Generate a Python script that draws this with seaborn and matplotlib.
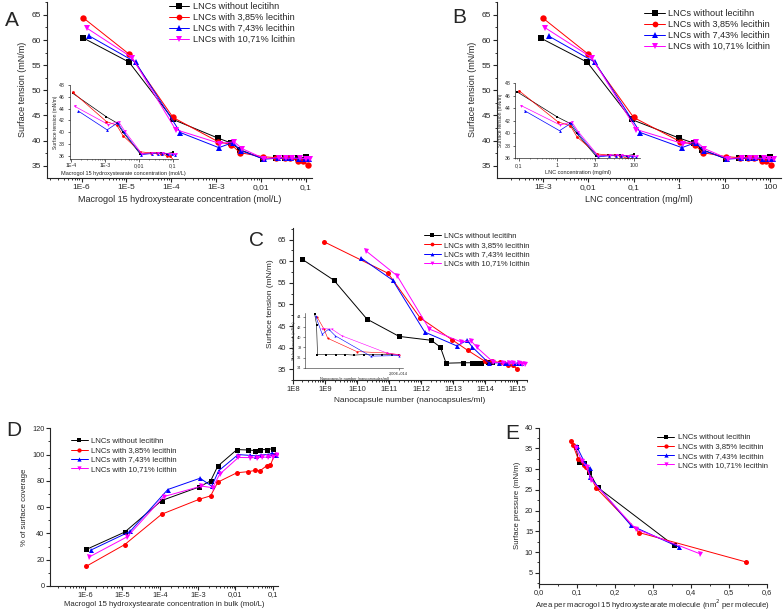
import numpy as np
import pandas as pd
import seaborn as sns
import matplotlib.pyplot as plt
from matplotlib.ticker import FixedLocator, FixedFormatter, LogLocator, MultipleLocator, NullFormatter

sns.set_style("ticks")
plt.rcParams["font.family"] = ["Liberation Sans", "DejaVu Sans"]

# ---- series styling / labels ----
labels = ["LNCs without lecitihn", "LNCs with 3,85% lecithin",
          "LNCs with 7,43% lecithin", "LNCs with 10,71% lcithin"]
labels_e = ["LNCs without lecithin", "LNCs with 3,85% lecithin",
            "LNCs with 7,43% lecithin", "LNCs with 10,71% lecithin"]
colors = ["#000000", "#ff0000", "#0000ff", "#ff00ff"]
markers = ["s", "o", "^", "v"]

# ---- A / D : macrogol 15 hydroxystearate concentration (mol/L) ----
conc_black = [1.1e-6, 1.15e-5, 1.1e-4, 1.1e-3, 2.2e-3, 3.4e-3, 0.011, 0.022, 0.034, 0.045, 0.068, 0.1]
conc_red = [1.1e-6, 1.15e-5, 1.1e-4, 1.1e-3, 2.2e-3, 3.4e-3, 0.011, 0.022, 0.034, 0.045, 0.068, 0.085, 0.11]
conc_blue = [1.5e-6, 1.6e-5, 1.6e-4, 1.15e-3, 2.35e-3, 3.6e-3, 0.0118, 0.024, 0.036, 0.048, 0.072, 0.095, 0.12]
conc_mag = [1.3e-6, 1.35e-5, 1.25e-4, 1.25e-3, 2.5e-3, 3.8e-3, 0.012, 0.025, 0.037, 0.05, 0.075, 0.1, 0.125]

# ---- B : LNC concentration (mg/ml) ----
lnc_black = [0.9e-3, 0.0095, 0.09, 1.0, 2.1, 3.2, 10.5, 21, 32, 43, 65, 100]
lnc_red = [1.0e-3, 0.01, 0.1, 1.05, 2.2, 3.3, 10.8, 22, 33, 44, 66, 83, 105]
lnc_blue = [1.35e-3, 0.014, 0.14, 1.15, 2.3, 3.5, 11.5, 23, 35, 47, 70, 92, 115]
lnc_mag = [1.15e-3, 0.012, 0.115, 1.2, 2.4, 3.6, 11.8, 24, 36, 48, 72, 96, 120]

# surface tension (mN/m), A and B main plots
st_black = [60.4, 55.6, 44.2, 40.5, 39.5, 38.2, 36.4, 36.5, 36.5, 36.5, 36.5, 36.7]
st_red = [64.4, 57.2, 44.6, 39.8, 39.2, 37.6, 36.8, 36.6, 36.6, 36.5, 36.0, 35.9, 35.1]
st_blue = [60.8, 55.6, 41.6, 38.6, 39.6, 38.0, 36.3, 36.5, 36.5, 36.5, 36.4, 36.4, 36.3]
st_mag = [62.4, 56.5, 42.2, 39.4, 39.8, 38.4, 36.4, 36.6, 36.5, 36.5, 36.5, 36.4, 36.4]

# insets of A and B (points from the 3rd concentration on)
ins_black = [46.6, 42.6, 41.6, 40.0, 36.3, 36.5, 36.5, 36.5, 36.4, 36.6]
ins_red = [46.8, 41.8, 41.2, 39.4, 36.7, 36.5, 36.5, 36.4, 36.0, 35.9, 35.2]
ins_blue = [43.6, 40.4, 41.6, 40.0, 36.2, 36.4, 36.4, 36.4, 36.3, 36.3, 36.2]
ins_mag = [44.4, 41.3, 41.8, 40.2, 36.4, 36.5, 36.5, 36.5, 36.4, 36.4, 36.3]

# ---- C : nanocapsule number (nanocapsules/ml) ----
nano_black = [2e8, 1.9e9, 2.05e10, 2.06e11, 2.07e12, 4e12, 6e12, 2e13, 4e13, 5.5e13, 7.5e13, 1.2e14, 1.6e14]
stc_black = [60.4, 55.6, 46.6, 42.6, 41.7, 40.1, 36.4, 36.5, 36.5, 36.5, 36.5, 36.6, 36.7]
nano_red = [9.3e8, 9.3e10, 9.3e11, 9.3e12, 2.8e13, 9.5e13, 1.6e14, 2.8e14, 3.8e14, 5e14, 7.5e14, 9.5e14]
stc_red = [64.5, 57.2, 46.9, 41.8, 39.4, 36.9, 36.8, 36.6, 36.5, 36.0, 35.9, 35.1]
nano_blue = [1.3e10, 1.3e11, 1.3e12, 1.3e13, 2.7e13, 4e13, 1.3e14, 2.7e14, 4e14, 5.3e14, 8e14, 1.05e15, 1.3e15]
stc_blue = [60.8, 55.6, 43.6, 40.4, 41.7, 40.1, 36.4, 36.5, 36.5, 36.5, 36.4, 36.4, 36.4]
nano_mag = [1.9e10, 1.8e11, 1.8e12, 1.8e13, 3.6e13, 5.4e13, 1.8e14, 3.6e14, 5.4e14, 7.2e14, 1.1e15, 1.4e15, 1.8e15]
stc_mag = [62.4, 56.6, 44.3, 41.3, 41.6, 40.1, 36.6, 36.5, 36.5, 36.4, 36.4, 36.3, 36.3]

# C inset (linear nanocapsule axis)
insc_x_black = [0.2e14, 0.24e14, 0.26e14, 0.45e14, 0.65e14, 0.85e14, 1.05e14, 1.25e14, 1.45e14, 1.65e14, 1.85e14, 2.0e14]
insc_y_black = [44.5, 42.5, 36.6, 36.6, 36.6, 36.6, 36.5, 36.6, 36.6, 36.6, 36.6, 36.5]
insc_x_red = [0.25e14, 0.4e14, 0.48e14, 1.1e14, 1.75e14, 2.0e14]
insc_y_red = [44.0, 41.6, 39.8, 37.2, 36.9, 36.6]
insc_x_blue = [0.22e14, 0.36e14, 0.5e14, 0.64e14, 1.4e14, 2.0e14]
insc_y_blue = [44.2, 40.6, 41.6, 40.3, 36.3, 36.4]
insc_x_mag = [0.36e14, 0.57e14, 0.78e14, 1.75e14, 2.0e14]
insc_y_mag = [41.7, 41.6, 40.3, 36.9, 36.5]

# ---- D : % of surface coverage ----
cov_black = [27.8, 41.0, 65.0, 75.4, 80.0, 91.2, 103.8, 103.5, 103.0, 103.8, 103.8, 104.5]
cov_red = [15.0, 31.5, 54.6, 66.0, 68.6, 79.0, 86.2, 87.0, 88.0, 87.6, 91.6, 92.0, 100.0]
cov_blue = [27.5, 41.5, 73.4, 82.0, 76.0, 87.7, 100.0, 99.4, 99.0, 99.7, 100.0, 101.0, 100.0]
cov_mag = [22.0, 37.5, 68.0, 76.0, 74.8, 85.0, 97.8, 97.7, 97.5, 98.0, 98.0, 98.5, 100.0]

# ---- E : area per molecule (nm2) vs surface pressure (mN/m) ----
area_black = [0.098, 0.105, 0.118, 0.133, 0.155, 0.356]
pi_black = [35.4, 31.8, 31.4, 29.4, 25.6, 11.6]
area_red = [0.084, 0.09, 0.104, 0.12, 0.124, 0.152, 0.264, 0.546]
pi_red = [36.8, 35.9, 32.4, 31.0, 30.4, 25.4, 14.7, 7.6]
area_blue = [0.1, 0.121, 0.134, 0.134, 0.243, 0.369]
pi_blue = [35.5, 31.6, 30.2, 28.2, 16.4, 11.2]
area_mag = [0.097, 0.114, 0.126, 0.139, 0.255, 0.424]
pi_mag = [35.2, 32.0, 30.6, 27.4, 15.6, 9.6]

# ---- tick labels ----
conc_ticks = [1e-6, 1e-5, 1e-4, 1e-3, 0.01, 0.1]
conc_ticklabels = ["1E-6", "1E-5", "1E-4", "1E-3", "0,01", "0,1"]
lnc_ticks = [1e-3, 0.01, 0.1, 1, 10, 100]
lnc_ticklabels = ["1E-3", "0,01", "0,1", "1", "10", "100"]
nano_ticks = [1e8, 1e9, 1e10, 1e11, 1e12, 1e13, 1e14, 1e15]
nano_ticklabels = ["1E8", "1E9", "1E10", "1E11", "1E12", "1E13", "1E14", "1E15"]
insa_ticks = [1e-4, 1e-3, 0.01, 0.1]
insa_ticklabels = ["1E-4", "1E-3", "0,01", "0,1"]
insb_ticks = [0.1, 1, 10, 100]
insb_ticklabels = ["0,1", "1", "10", "100"]
insc_ticks = [2e14]
insc_ticklabels = ["2,00E+014"]
area_ticks = [0.0, 0.1, 0.2, 0.3, 0.4, 0.5, 0.6]
area_ticklabels = ["0,0", "0,1", "0,2", "0,3", "0,4", "0,5", "0,6"]


def draw(ax, xs, ys, ms=4.5, lw=0.7, lab=None):
    for i in range(4):
        sns.lineplot(x=xs[i], y=ys[i], ax=ax, color=colors[i], marker=markers[i],
                     markersize=ms, markeredgewidth=0, linewidth=lw, estimator=None,
                     sort=False, legend=False)


def style(ax, fs=6, lw=0.8, maj=3, mnr=1.6, pad=1.5):
    sns.despine(ax=ax)
    for s in ["left", "bottom"]:
        ax.spines[s].set_linewidth(lw)
    ax.tick_params(which="major", labelsize=fs, length=maj, width=lw, pad=pad, direction="out")
    ax.tick_params(which="minor", length=mnr, width=lw * 0.8, direction="out")


def logx(ax, ticks, ticklabels):
    ax.set_xscale("log")
    ax.xaxis.set_major_locator(FixedLocator(ticks))
    ax.xaxis.set_major_formatter(FixedFormatter(ticklabels))
    ax.xaxis.set_minor_locator(LogLocator(base=10, subs=np.arange(2, 10), numticks=40))
    ax.xaxis.set_minor_formatter(NullFormatter())


def legend(ax, lab, fs, anchor, ms, loc="upper left"):
    h = ax.get_lines()[:4]
    leg = ax.legend(h, lab, loc=loc, bbox_to_anchor=anchor, frameon=False, fontsize=fs,
                    handlelength=2.2, handletextpad=0.4, labelspacing=0.22, borderpad=0.1,
                    markerscale=ms)
    return leg


def inset(rect):
    ax = fig.add_axes(rect)
    ax.patch.set_alpha(0)
    return ax


fig = plt.figure(figsize=(7.83, 6.11), dpi=100)

# ================= A =================
axA = fig.add_axes([0.060, 0.709, 0.338, 0.288])
draw(axA, [conc_black, conc_red, conc_blue, conc_mag], [st_black, st_red, st_blue, st_mag], ms=4.6)
logx(axA, conc_ticks, conc_ticklabels)
axA.set_xlim(1.7e-7, 0.135)
axA.set_ylim(32.6, 67.6)
axA.yaxis.set_major_locator(MultipleLocator(5))
axA.yaxis.set_minor_locator(MultipleLocator(2.5))
style(axA)
axA.set_xlabel("Macrogol 15 hydroxystearate concentration (mol/L)", fontsize=6.5, labelpad=3)
axA.set_ylabel("Surface tension (mN/m)", fontsize=6.5, labelpad=3)
legend(axA, labels, 6.6, (0.44, 1.03), 0.9)
fig.text(0.006, 0.967, "A", fontsize=15, va="center")

insA = inset([0.089, 0.740, 0.138, 0.121])
draw(insA, [conc_black[2:], conc_red[2:], conc_blue[2:], conc_mag[2:]],
     [ins_black, ins_red, ins_blue, ins_mag], ms=2.0, lw=0.5)
logx(insA, insa_ticks, insa_ticklabels)
insA.set_xlim(0.9e-4, 0.14)
insA.set_ylim(35.5, 48)
insA.yaxis.set_major_locator(MultipleLocator(2))
style(insA, fs=3.8, lw=0.5, maj=1.8, mnr=1)
insA.set_xlabel("Macrogol 15 hydroxystearate concentration (mol/L)", fontsize=4, labelpad=1.5)
insA.set_ylabel("Surface tension (mN/m)", fontsize=3.6, labelpad=1)

# ================= B =================
axB = fig.add_axes([0.635, 0.709, 0.362, 0.288])
draw(axB, [lnc_black, lnc_red, lnc_blue, lnc_mag], [st_black, st_red, st_blue, st_mag], ms=4.6)
logx(axB, lnc_ticks, lnc_ticklabels)
axB.set_xlim(1e-4, 170)
axB.set_ylim(32.6, 67.6)
axB.yaxis.set_major_locator(MultipleLocator(5))
axB.yaxis.set_minor_locator(MultipleLocator(2.5))
style(axB)
axB.set_xlabel("LNC concentration (mg/ml)", fontsize=6.5, labelpad=3)
axB.set_ylabel("Surface tension (mN/m)", fontsize=6.5, labelpad=3)
legend(axB, labels, 6.6, (0.5, 0.99), 0.9)
fig.text(0.578, 0.972, "B", fontsize=15, va="center")

insB = inset([0.658, 0.741, 0.160, 0.123])
draw(insB, [lnc_black[2:], lnc_red[2:], lnc_blue[2:], lnc_mag[2:]],
     [ins_black, ins_red, ins_blue, ins_mag], ms=2.0, lw=0.5)
logx(insB, insb_ticks, insb_ticklabels)
insB.set_xlim(0.08, 150)
insB.set_ylim(36, 48)
insB.yaxis.set_major_locator(MultipleLocator(2))
style(insB, fs=3.8, lw=0.5, maj=1.8, mnr=1)
insB.set_xlabel("LNC concentration (mg/ml)", fontsize=4, labelpad=1.5)
insB.set_ylabel("Surface tension (mN/m)", fontsize=3.6, labelpad=1)

# ================= C =================
axC = fig.add_axes([0.374, 0.378, 0.299, 0.249])
draw(axC, [nano_black, nano_red, nano_blue, nano_mag], [stc_black, stc_red, stc_blue, stc_mag], ms=3.6)
logx(axC, nano_ticks, nano_ticklabels)
axC.set_xlim(1e8, 2e15)
axC.set_ylim(32.5, 67.7)
axC.yaxis.set_major_locator(MultipleLocator(5))
axC.yaxis.set_minor_locator(MultipleLocator(2.5))
style(axC, fs=5.5)
axC.set_xlabel("Nanocapsule number (nanocapsules/ml)", fontsize=6, labelpad=3)
axC.set_ylabel("Surface tension (mN/m)", fontsize=6, labelpad=3)
legend(axC, labels, 5.6, (0.54, 1.0), 0.75)
fig.text(0.318, 0.607, "C", fontsize=15, va="center")

insC = inset([0.390, 0.398, 0.125, 0.090])
draw(insC, [insc_x_black, insc_x_red, insc_x_blue, insc_x_mag],
     [insc_y_black, insc_y_red, insc_y_blue, insc_y_mag], ms=1.5, lw=0.4)
insC.set_xlim(0, 2.1e14)
insC.set_ylim(34, 44.8)
insC.xaxis.set_major_locator(FixedLocator(insc_ticks))
insC.xaxis.set_major_formatter(FixedFormatter(insc_ticklabels))
insC.yaxis.set_major_locator(MultipleLocator(2))
style(insC, fs=2.8, lw=0.4, maj=1.2, mnr=0.8)
insC.set_xlabel("Nanocapsule number (nanocapsules/ml)", fontsize=2.8, labelpad=1)
insC.set_ylabel("Surface tension (mN/m)", fontsize=2.6, labelpad=1)

# ================= D =================
axD = fig.add_axes([0.064, 0.041, 0.291, 0.258])
draw(axD, [conc_black, conc_red, conc_blue, conc_mag], [cov_black, cov_red, cov_blue, cov_mag], ms=3.6)
logx(axD, conc_ticks, conc_ticklabels)
axD.set_xlim(1.2e-7, 0.135)
axD.set_ylim(0, 120)
axD.yaxis.set_major_locator(MultipleLocator(20))
axD.yaxis.set_minor_locator(MultipleLocator(10))
style(axD, fs=5.3, pad=1)
axD.set_xlabel("Macrogol 15 hydroxystearate concentration in bulk (mol/L)", fontsize=5.6, labelpad=1.5)
axD.set_ylabel("% of surface coverage", fontsize=5.6, labelpad=3)
legend(axD, labels, 5.6, (0.07, 0.97), 0.85)
fig.text(0.008, 0.296, "D", fontsize=15, va="center")

# ================= E =================
axE = fig.add_axes([0.688, 0.045, 0.291, 0.255])
draw(axE, [area_black, area_red, area_blue, area_mag], [pi_black, pi_red, pi_blue, pi_mag], ms=3.6)
axE.set_xlim(0, 0.6)
axE.set_ylim(2.4, 40)
axE.xaxis.set_major_locator(FixedLocator(area_ticks))
axE.xaxis.set_major_formatter(FixedFormatter(area_ticklabels))
axE.xaxis.set_minor_locator(MultipleLocator(0.05))
axE.yaxis.set_major_locator(MultipleLocator(5))
axE.yaxis.set_minor_locator(MultipleLocator(2.5))
style(axE, fs=5.3, pad=1)
axE.set_xlabel("Area per macrogol 15 hydroxystearate molecule (nm$^2$ per molecule)", fontsize=5.6, labelpad=1)
axE.set_ylabel("Surface pressure (mN/m)", fontsize=5.6, labelpad=3)
legend(axE, labels_e, 5.6, (0.5, 0.99), 0.85)
fig.text(0.645, 0.29, "E", fontsize=15, va="center")

fig.savefig("out.png", dpi=100)
